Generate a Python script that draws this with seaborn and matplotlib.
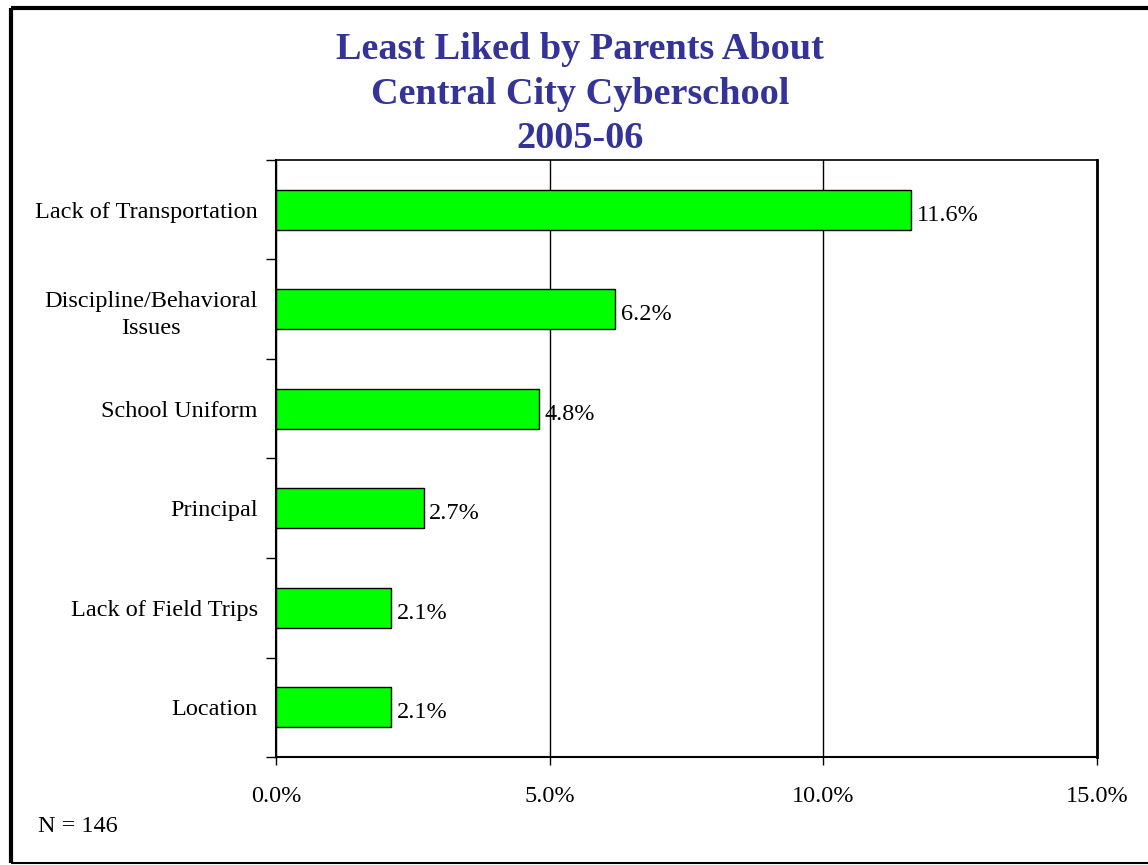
import matplotlib
matplotlib.use("Agg")
import matplotlib.pyplot as plt
import seaborn as sns
import pandas as pd
import numpy as np
from matplotlib.lines import Line2D
from matplotlib.ticker import FuncFormatter, FixedLocator

categories = ["Lack of Transportation", "Discipline/Behavioral\nIssues", "School Uniform",
              "Principal", "Lack of Field Trips", "Location"]
values = [11.6, 6.2, 4.8, 2.7, 2.1, 2.1]
value_labels = ["11.6%", "6.2%", "4.8%", "2.7%", "2.1%", "2.1%"]
x_ticks = [0, 5, 10, 15]
title = "Least Liked by Parents About\nCentral City Cyberschool\n2005-06"
note = "N = 146"

sns.set_style("white")
plt.rcParams['font.family'] = ['Liberation Serif', 'DejaVu Serif']
plt.rcParams['text.color'] = 'black'
plt.rcParams['xtick.color'] = 'black'
plt.rcParams['ytick.color'] = 'black'

FS = 17.5

df = pd.DataFrame({"cat": categories, "val": values})

fig = plt.figure(figsize=(11.48, 8.65), dpi=100)
ax = fig.add_axes([276/1148, 1-757/865, (1097-276)/1148, (757-160)/865])

sns.barplot(data=df, y="cat", x="val", orient="h", color="#00FF00",
            edgecolor="black", linewidth=1.0, width=0.4, saturation=1, ax=ax)

ax.set_xlim(0, 15)
ax.set_ylim(len(categories)-0.5, -0.5)
ax.set_xticks(x_ticks)
ax.xaxis.set_major_formatter(FuncFormatter(lambda v, p: f"{v:.1f}%"))
ax.set_xlabel("")
ax.set_ylabel("")
ax.grid(axis="x", color="black", linewidth=1.0)
ax.grid(axis="y", visible=False)
ax.set_axisbelow(True)

ax.tick_params(axis="x", which="major", bottom=True, direction="out", length=6, width=1,
               color="black", pad=15, labelsize=FS, labelcolor="black")
ax.tick_params(axis="y", which="major", left=True, length=0, pad=13, labelsize=FS,
               labelcolor="black")
ax.yaxis.set_minor_locator(FixedLocator(np.arange(-0.5, len(categories), 1.0)))
ax.tick_params(axis="y", which="minor", left=True, direction="out", length=7, width=1,
               color="black")
for lab in ax.get_yticklabels():
    lab.set_multialignment("center")
    lab.set_linespacing(1.4)

for s in ["left", "bottom"]:
    ax.spines[s].set_linewidth(1.5)
    ax.spines[s].set_color("black")
ax.spines["top"].set_linewidth(1.2)
ax.spines["top"].set_color("black")
ax.spines["right"].set_linewidth(2.0)
ax.spines["right"].set_color("black")

for i, (v, lab) in enumerate(zip(values, value_labels)):
    ax.text(v + 0.1, i + 0.03, lab, va="center_baseline", ha="left", fontsize=FS, color="black")

fig.text(580/1148, 1-94/865, title, ha="center", va="center", fontsize=27.5,
         fontweight="bold", color="#333399", linespacing=1.35)
fig.text(38/1148, 1-826/865, note, ha="left", va="center", fontsize=FS, color="black")

# figure frame
fig.add_artist(Line2D([10.5/1148, 1.0], [1-7.5/865, 1-7.5/865], color="black", linewidth=3,
                      transform=fig.transFigure, solid_capstyle="butt"))
fig.add_artist(Line2D([10.5/1148, 10.5/1148], [1-7.5/865, 1-862.5/865], color="black", linewidth=3,
                      transform=fig.transFigure, solid_capstyle="butt"))
fig.add_artist(Line2D([10.5/1148, 1.0], [1-862.5/865, 1-862.5/865], color="black", linewidth=1.5,
                      transform=fig.transFigure, solid_capstyle="butt"))

fig.savefig("out.png", dpi=100, facecolor="white")
